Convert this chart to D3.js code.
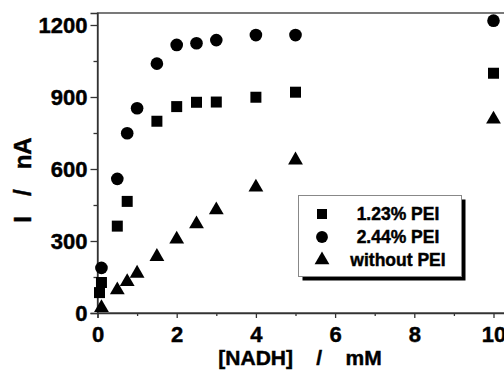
<!DOCTYPE html>
<html>
<head>
<meta charset="utf-8">
<script src="https://cdn.jsdelivr.net/npm/d3@7"></script>
<style>
  html, body { margin: 0; padding: 0; background: #fff; }
  svg { display: block; }
  text { font-family: "Liberation Sans", Arial, sans-serif; font-weight: bold; fill: #000; stroke: #000; stroke-width: 0.45px; }
</style>
</head>
<body>
<svg id="chart" width="504" height="371"></svg>
<script>
// ---- data ----
const xPEI123 = [0.05, 0.1, 0.5, 0.75, 1.5, 2, 2.5, 3, 4, 5, 10];
const yPEI123 = [85, 127, 362, 465, 799, 860, 878, 879, 899, 920, 999];

const xPEI244 = [0.1, 0.5, 0.75, 1, 1.5, 2, 2.5, 3, 4, 5, 10];
const yPEI244 = [188, 559, 749, 853, 1039, 1117, 1124, 1137, 1158, 1158, 1218];

const xNoPEI = [0.1, 0.5, 0.75, 1, 1.5, 2, 2.5, 3, 4, 5, 10];
const yNoPEI = [22, 96, 130, 165, 235, 307, 371, 429, 524, 637, 807];

const seriesNames = ["1.23% PEI", "2.44% PEI", "without PEI"];
const xTicks = [0, 2, 4, 6, 8, 10];
const xMinorTicks = [1, 3, 5, 7, 9];
const yTicks = [0, 300, 600, 900, 1200];
const yMinorTicks = [150, 450, 750, 1050];
const xTitle = "[NADH]    /    mM";
const yTitle = "I   /   nA";

// ---- layout ----
const svg = d3.select("#chart");
const x = d3.scaleLinear().domain([0, 10.4]).range([97.5, 97.5 + 10.4 * 39.6]);
const y = d3.scaleLinear().domain([0, 1250]).range([313, 13]);
const axisColor = "#333";

// frame
svg.append("rect")
  .attr("x", x(0)).attr("y", y(1250))
  .attr("width", x(10.4) - x(0)).attr("height", y(0) - y(1250))
  .attr("fill", "none").attr("stroke", axisColor).attr("stroke-width", 1.3);

// axes
function styleAxis(g) {
  g.select(".domain").attr("stroke", axisColor).attr("stroke-width", 1.3);
  g.selectAll(".tick line").attr("stroke", axisColor).attr("stroke-width", 1.3);
  g.selectAll("text").style("font-size", "22px").attr("fill", "#000");
}
const gx = svg.append("g").attr("transform", `translate(0,${y(0)})`)
  .call(d3.axisBottom(x).tickValues(xTicks).tickSize(5).tickPadding(8).tickFormat(d3.format("d")));
styleAxis(gx);
svg.append("g").attr("transform", `translate(0,${y(0)})`)
  .call(d3.axisBottom(x).tickValues(xMinorTicks).tickSize(3).tickFormat(""))
  .call(g => { g.select(".domain").remove(); g.selectAll(".tick line").attr("stroke", axisColor).attr("stroke-width", 1.3); });

const gy = svg.append("g").attr("transform", `translate(${x(0)},0)`)
  .call(d3.axisLeft(y).tickValues(yTicks).tickSize(7).tickPadding(3).tickFormat(d3.format("d")));
styleAxis(gy);
svg.append("g").attr("transform", `translate(${x(0)},0)`)
  .call(d3.axisLeft(y).tickValues(yMinorTicks).tickSize(4).tickFormat(""))
  .call(g => { g.select(".domain").remove(); g.selectAll(".tick line").attr("stroke", axisColor).attr("stroke-width", 1.3); });

// titles
svg.append("text").attr("x", 300).attr("y", 365)
  .attr("text-anchor", "middle").style("font-size", "21px").style("white-space", "pre")
  .text(xTitle);
svg.append("text").attr("transform", "translate(31,180) rotate(-90)")
  .attr("text-anchor", "middle").style("font-size", "24px").style("white-space", "pre")
  .text(yTitle);

// symbols
const symSquare = d3.symbol().type(d3.symbolSquare).size(121);
const symCircle = d3.symbol().type(d3.symbolCircle).size(125);
const symTriangle = d3.symbol().type(d3.symbolTriangle).size(95);

function plotSeries(xs, ys, sym) {
  svg.append("g").selectAll("path").data(xs).join("path")
    .attr("d", sym())
    .attr("transform", (d, i) => `translate(${x(d)},${y(ys[i])})`)
    .attr("fill", "#000");
}
plotSeries(xNoPEI, yNoPEI, symTriangle);
plotSeries(xPEI123, yPEI123, symSquare);
plotSeries(xPEI244, yPEI244, symCircle);

// legend
const lg = svg.append("g");
lg.append("rect").attr("x", 302.5).attr("y", 199.5).attr("width", 163).attr("height", 81).attr("fill", "#000");
lg.append("rect").attr("x", 298.5).attr("y", 195.5).attr("width", 163).attr("height", 81)
  .attr("fill", "#fff").attr("stroke", "#888").attr("stroke-width", 1);
const rowsY = [214, 237, 260];
seriesNames.forEach((name, i) => {
  lg.append("path").attr("d", d3.symbol().type([d3.symbolSquare, d3.symbolCircle, d3.symbolTriangle][i]).size([100, 110, 95][i])())
    .attr("transform", `translate(322,${rowsY[i]})`).attr("fill", "#000");
  lg.append("text").attr("x", 398).attr("y", rowsY[i]).attr("dy", "0.35em")
    .attr("text-anchor", "middle").style("font-size", "17.5px").text(name);
});
</script>
</body>
</html>
